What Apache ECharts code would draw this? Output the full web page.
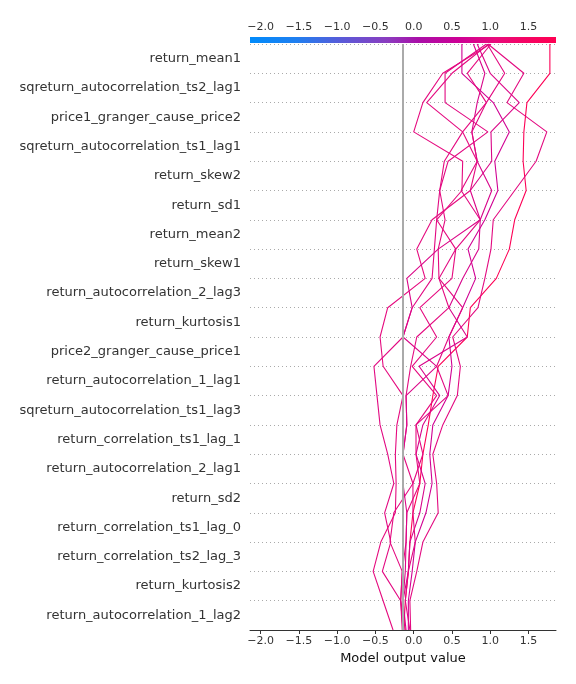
<!DOCTYPE html>
<html>
<head>
<meta charset="utf-8">
<script src="https://cdn.jsdelivr.net/npm/echarts@6/dist/echarts.min.js"></script>
<style>html,body{margin:0;padding:0;background:#fff}#c{width:576px;height:684px}</style>
</head>
<body>
<div id="c"></div>
<script>
// Features, top to bottom as displayed
const features = [
  "return_mean1","sqreturn_autocorrelation_ts2_lag1","price1_granger_cause_price2",
  "sqreturn_autocorrelation_ts1_lag1","return_skew2","return_sd1","return_mean2",
  "return_skew1","return_autocorrelation_2_lag3","return_kurtosis1",
  "price2_granger_cause_price1","return_autocorrelation_1_lag1",
  "sqreturn_autocorrelation_ts1_lag3","return_correlation_ts1_lag_1",
  "return_autocorrelation_2_lag1","return_sd2","return_correlation_ts1_lag_0",
  "return_correlation_ts2_lag_3","return_kurtosis2","return_autocorrelation_1_lag2"
];
const xTicks = [-2.0,-1.5,-1.0,-0.5,0.0,0.5,1.0,1.5];
const baseValue = -0.14;
const xMin = -2.14, xMax = 1.86;
// cumulative model output at each boundary, bottom (index 0) to top (index 20)
const line1 = [-0.13,-0.11,-0.07,-0.05,-0.01,0.08,0.12,0.19,0.25,0.32,0.70,0.74,1.08,1.25,1.32,1.47,1.43,1.44,1.48,1.78,1.78];
const line2 = [-0.04,-0.05,0.04,0.12,0.32,0.30,0.25,0.38,0.57,0.61,0.51,0.84,0.93,1.01,1.04,1.32,1.60,1.74,1.22,1.44,0.97];
const line3 = [-0.07,-0.07,-0.02,0.02,0.16,0.24,0.21,0.25,0.45,0.50,0.46,0.64,0.81,0.71,0.93,1.10,1.06,1.25,1.04,0.63,0.63];
const line4 = [-0.10,-0.14,-0.07,-0.05,0.08,0.15,0.03,0.12,0.34,0.07,0.70,0.46,0.64,0.85,0.87,1.02,0.83,0.76,0.83,0.93,0.78];
const line5 = [-0.11,-0.17,-0.15,-0.10,-0.09,0.08,0.03,0.03,0.30,-0.02,0.30,0.08,0.50,0.55,0.30,0.63,0.64,0.00,0.12,0.38,1.00];
const line6 = [-0.14,-0.17,-0.15,-0.31,-0.26,-0.01,-0.14,-0.09,-0.10,-0.04,0.04,0.46,0.33,0.32,0.41,0.34,0.40,0.64,0.17,0.50,0.98];
const line7 = [-0.15,-0.17,-0.41,-0.30,-0.38,-0.26,-0.34,-0.44,-0.48,-0.52,-0.14,-0.02,0.24,0.27,0.30,0.34,0.45,0.97,0.41,0.41,0.95];
const line8 = [-0.27,-0.40,-0.53,-0.43,-0.24,-0.23,-0.24,-0.22,-0.14,-0.40,-0.44,-0.34,0.15,0.04,0.24,0.74,0.83,0.64,0.95,0.70,1.01];
const line9 = [-0.13,-0.14,-0.11,-0.10,-0.09,-0.14,-0.14,-0.09,-0.10,0.30,-0.14,-0.02,-0.09,0.32,0.87,0.74,1.02,1.01,1.38,1.00,0.83];
const line10 = [-0.05,-0.11,-0.07,0.02,-0.01,-0.01,0.12,0.03,0.45,0.30,0.46,0.64,0.33,0.55,0.87,0.62,0.83,0.76,0.95,1.19,0.96];
const lines = [line1,line2,line3,line4,line5,line6,line7,line8,line9,line10];

// colormap (blue -> purple -> red)
const cmap = [
  [0.0,[0,139,251]],[0.15,[31,127,240]],[0.3,[90,90,216]],[0.45,[139,60,191]],
  [0.55,[169,15,168]],[0.68,[205,0,150]],[0.8,[232,12,124]],[0.9,[245,4,100]],[1.0,[255,0,82]]
];
function cmapColor(t){
  t = Math.max(0, Math.min(1, t));
  for (let i = 1; i < cmap.length; i++) {
    if (t <= cmap[i][0]) {
      const a = cmap[i-1], b = cmap[i];
      const f = (t - a[0]) / (b[0] - a[0]);
      const c = a[1].map((v, k) => Math.round(v + (b[1][k] - v) * f));
      return 'rgb(' + c.join(',') + ')';
    }
  }
  return 'rgb(255,0,82)';
}
function fmt(v){ return (v < 0 ? '\u2212' : '') + Math.abs(v).toFixed(1); }

const font = 'DejaVu Sans';
const chart = echarts.init(document.getElementById('c'), null, {renderer:'canvas'});

const series = lines.map(arr => ({
  type: 'line', xAxisIndex: 0, yAxisIndex: 1, symbol: 'none', silent: true,
  data: arr.map((v, k) => [v, k]),
  lineStyle: { width: 1.1, color: cmapColor((arr[arr.length-1] - xMin) / (xMax - xMin)) },
  z: 3
}));
series.push({
  type: 'line', xAxisIndex: 0, yAxisIndex: 1, data: [], silent: true, z: 2,
  markLine: { symbol: 'none', silent: true, label: {show:false},
    lineStyle: { color: '#aaaaaa', width: 2, type: 'solid' },
    data: [{ xAxis: baseValue }] }
});
series.push({
  type: 'custom', xAxisIndex: 1, yAxisIndex: 2, silent: true,
  data: [[xMin, xMax]],
  renderItem: function(params, api){
    const p0 = api.coord([api.value(0), 0]);
    const p1 = api.coord([api.value(1), 1]);
    return {
      type: 'rect',
      shape: { x: p0[0], y: p1[1], width: p1[0] - p0[0], height: p0[1] - p1[1] },
      style: { fill: new echarts.graphic.LinearGradient(0,0,1,0,
        cmap.map(s => ({offset: s[0], color: 'rgb(' + s[1].join(',') + ')'}))) }
    };
  }
});

chart.setOption({
  animation: false,
  backgroundColor: '#fff',
  grid: [
    { left: 250, right: 20, top: 44, bottom: 54 },
    { left: 250, right: 20, top: 37, height: 6 }
  ],
  xAxis: [
    { type: 'value', gridIndex: 0, min: xMin, max: xMax,
      name: 'Model output value', nameLocation: 'middle', nameGap: 21,
      nameTextStyle: { fontFamily: font, fontSize: 13, color: '#111' },
      axisLine: { show: true, onZero: false, lineStyle: { color: '#333', width: 1 } },
      axisTick: { show: true, length: 4, lineStyle: { color: '#333' }, customValues: xTicks },
      axisLabel: { fontFamily: font, fontSize: 11, color: '#333', margin: 6, customValues: xTicks, formatter: fmt },
      splitLine: { show: false }
    },
    { type: 'value', gridIndex: 1, position: 'top', min: xMin, max: xMax,
      axisLine: { show: false },
      axisTick: { show: true, length: 4, lineStyle: { color: '#333' }, customValues: xTicks },
      axisLabel: { fontFamily: font, fontSize: 11, color: '#333', margin: 4, customValues: xTicks, formatter: fmt },
      splitLine: { show: false }
    }
  ],
  yAxis: [
    { type: 'category', gridIndex: 0, data: features.slice().reverse(), boundaryGap: true,
      axisLine: { show: false }, axisTick: { show: false },
      axisLabel: { fontFamily: font, fontSize: 13, color: '#333', margin: 9, padding: [4, 0, 0, 0] },
      splitLine: { show: false }
    },
    { type: 'value', gridIndex: 0, min: 0, max: 20, interval: 1,
      axisLine: { show: false }, axisTick: { show: false }, axisLabel: { show: false },
      splitLine: { show: true, lineStyle: { color: '#aaaaaa', width: 1, type: [1, 3] } }
    },
    { type: 'value', gridIndex: 1, min: 0, max: 1, show: false }
  ],
  series: series
});
</script>
</body>
</html>
